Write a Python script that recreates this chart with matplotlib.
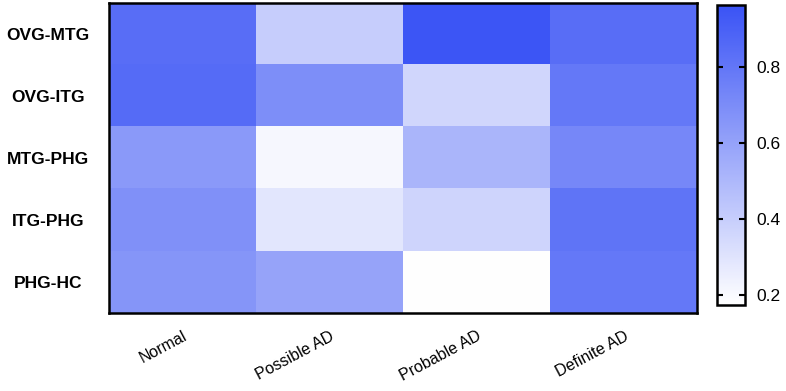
import numpy as np
import matplotlib
matplotlib.use("Agg")
import matplotlib.pyplot as plt
from matplotlib.colors import LinearSegmentedColormap

rows = ["OVG-MTG", "OVG-ITG", "MTG-PHG", "ITG-PHG", "PHG-HC"]
cols = ["Normal", "Possible AD", "Probable AD", "Definite AD"]
values = np.array([
    [0.84, 0.40, 0.95, 0.84],
    [0.85, 0.69, 0.36, 0.79],
    [0.64, 0.21, 0.51, 0.72],
    [0.68, 0.29, 0.37, 0.81],
    [0.66, 0.59, 0.18, 0.79],
])
vmin, vmax = 0.174, 0.962
cbar_ticks = [0.2, 0.4, 0.6, 0.8]

plt.rcParams['font.family'] = ['Liberation Sans', 'DejaVu Sans']
cmap = LinearSegmentedColormap.from_list("wb", ["#FFFFFF", "#3A53F5"])

fig = plt.figure(figsize=(7.86, 3.91), dpi=100)
ax = fig.add_axes([0.139, 0.199, 0.748, 0.793])
cax = fig.add_axes([0.912, 0.220, 0.036, 0.767])

im = ax.imshow(values, cmap=cmap, vmin=vmin, vmax=vmax, aspect='auto',
               interpolation='nearest')
ax.set_xticks(range(len(cols)))
ax.set_xticklabels(cols, rotation=28, ha='right', rotation_mode='anchor',
                   fontsize=11.5)
ax.set_yticks(range(len(rows)))
ax.set_yticklabels(rows, fontsize=12.5, fontweight='bold', ha='center')
ax.tick_params(length=0)
ax.tick_params(axis='y', pad=44)
ax.tick_params(axis='x', pad=11)
for s in ax.spines.values():
    s.set_linewidth(1.8)

cb = fig.colorbar(im, cax=cax, ticks=cbar_ticks)
cb.ax.tick_params(direction='in', left=True, right=True, length=4, width=1.5,
                  labelsize=12.5, pad=8)
cb.outline.set_linewidth(1.8)
cb.ax.set_yticklabels([f"{t:.1f}" for t in cbar_ticks])

fig.savefig("out.png", dpi=100)
